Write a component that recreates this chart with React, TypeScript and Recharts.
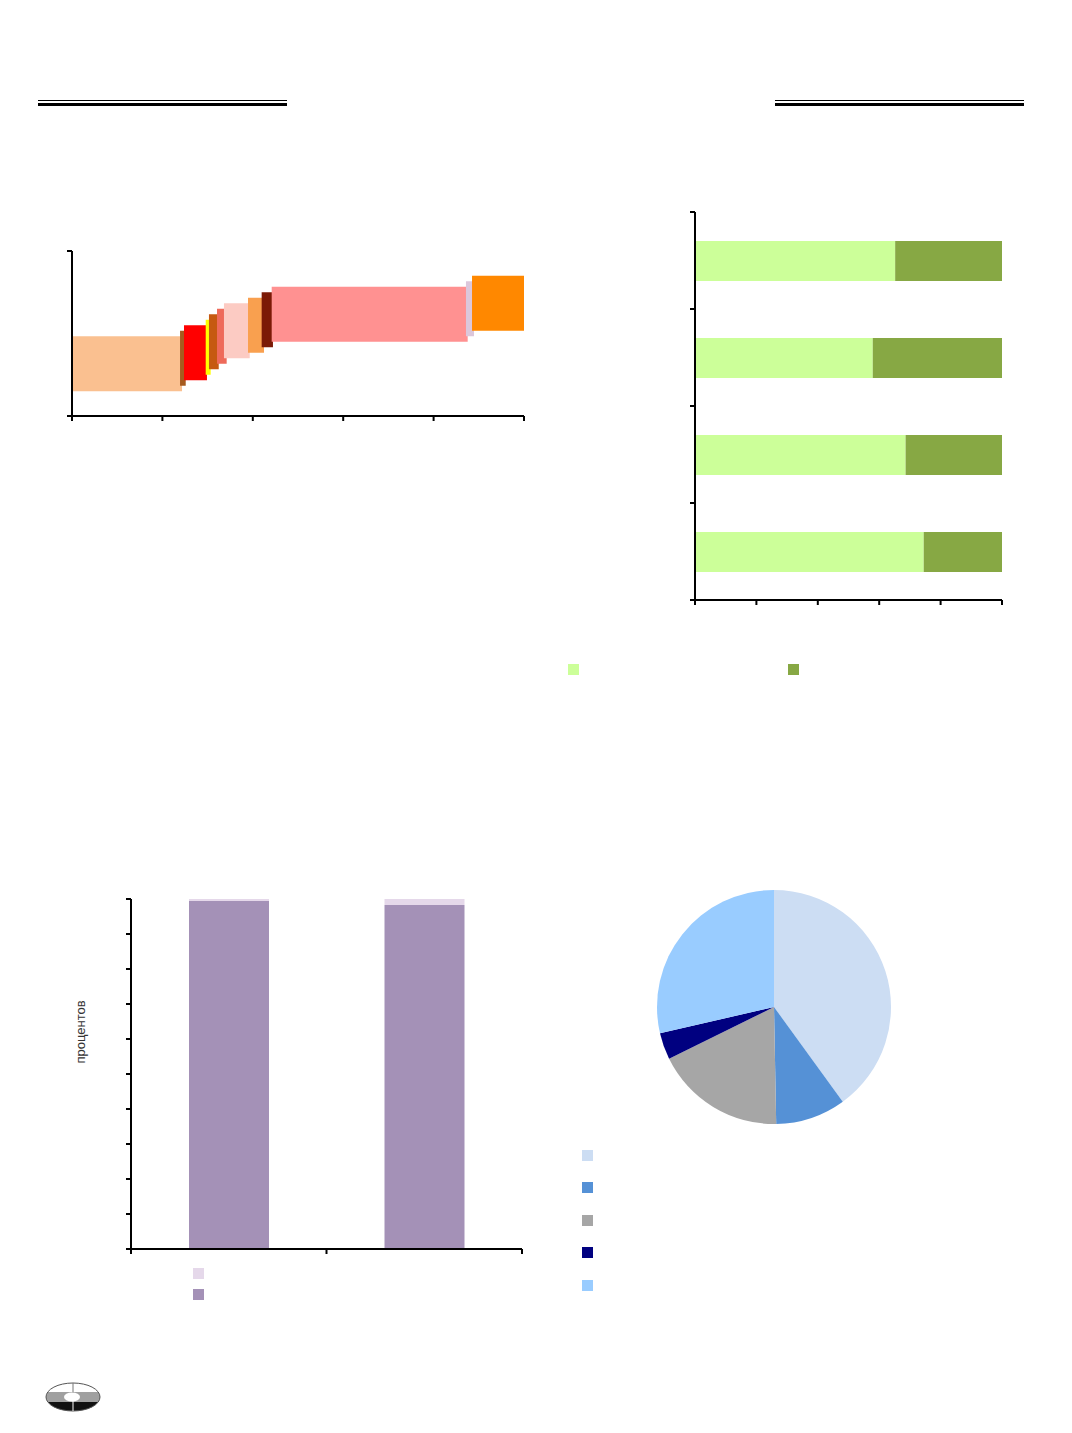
import React from 'react';
import {
  ComposedChart,
  BarChart,
  Bar,
  XAxis,
  YAxis,
  ReferenceArea,
  PieChart,
  Pie,
  Cell,
} from 'recharts';

// top-left: stepped cost boxes (x from/to, y low/high)
const boxFrom = [0, 1.195, 1.239, 1.479, 1.515, 1.604, 1.681, 1.947, 2.098, 2.209, 4.358, 4.425];
const boxTo = [1.217, 1.258, 1.493, 1.534, 1.623, 1.711, 1.966, 2.124, 2.223, 4.377, 4.447, 5];
const boxLow = [4.5, 5.5, 6.5, 7.5, 8.5, 9.5, 10.5, 11.5, 12.5, 13.5, 14.5, 15.5];
const boxHigh = [14.5, 15.5, 16.5, 17.5, 18.5, 19.5, 20.5, 21.5, 22.5, 23.5, 24.5, 25.5];
const boxColors = [
  '#FAC090', '#A65B1F', '#FF0000', '#FFFF00', '#C65911', '#EE6A5A',
  '#FCCBC3', '#F9A04F', '#7B1A06', '#FF9191', '#DCC7DB', '#FF8800',
];
const boxTicksX = [0, 1, 2, 3, 4, 5];
const boxTicksY = [0, 30];

// top-right: 100% horizontal bars
const rowNames = ['r1', 'r2', 'r3', 'r4'];
const rowLight = [65.2, 57.9, 68.6, 74.5];
const rowDark = [34.8, 42.1, 31.4, 25.5];
const rowColors = ['#CCFF99', '#87A844'];
const rowTicks = [0, 20, 40, 60, 80, 100];

// bottom-left: 100% columns
const colNames = ['c1', 'c2'];
const colMain = [99.4, 98.3];
const colRest = [0.6, 1.7];
const colColors = ['#A491B7', '#E5D8EA'];
const colTicks = [0, 10, 20, 30, 40, 50, 60, 70, 80, 90, 100];

// bottom-right: pie
const pieValues = [40, 9.7, 18, 3.7, 28.6];
const pieColors = ['#CCDDF3', '#5591D6', '#A6A6A6', '#000080', '#99CCFF'];

const axisLine = { stroke: '#000', strokeWidth: 2 };
const tickLine = { stroke: '#000', strokeWidth: 2 };
const TICK = 5;
const NoLabel = () => <g />;

// category axes: tick marks sit on the band edges, Excel style
const BandTickY = (props: any) => {
  const { x, y, payload, index, visibleTicksCount } = props;
  const off = payload?.offset ?? 0;
  const last = index === visibleTicksCount - 1;
  return (
    <g>
      <line x1={x - TICK} x2={x} y1={y - off} y2={y - off} stroke="#000" strokeWidth={2} />
      {last && <line x1={x - TICK} x2={x} y1={y + off} y2={y + off} stroke="#000" strokeWidth={2} />}
    </g>
  );
};
const BandTickX = (props: any) => {
  const { x, y, payload, index, visibleTicksCount } = props;
  const off = payload?.offset ?? 0;
  const last = index === visibleTicksCount - 1;
  return (
    <g>
      <line x1={x - off} x2={x - off} y1={y} y2={y + TICK} stroke="#000" strokeWidth={2} />
      {last && <line x1={x + off} x2={x + off} y1={y} y2={y + TICK} stroke="#000" strokeWidth={2} />}
    </g>
  );
};

const boxes = boxFrom.map((x0, i) => ({
  x0,
  x1: boxTo[i],
  y0: boxLow[i],
  y1: boxHigh[i],
  color: boxColors[i],
}));
const rows = rowNames.map((name, i) => ({ name, light: rowLight[i], dark: rowDark[i] }));
const cols = colNames.map((name, i) => ({ name, main: colMain[i], rest: colRest[i] }));
const slices = pieValues.map((value, i) => ({ name: `s${i}`, value }));

function Square({ left, top, color }: { left: number; top: number; color: string }) {
  return (
    <div style={{ position: 'absolute', left, top, width: 11, height: 11, background: color }} />
  );
}

function HeaderRule({ left }: { left: number }) {
  return (
    <div style={{ position: 'absolute', left, top: 100, width: 249 }}>
      <div style={{ height: 1, background: '#000' }} />
      <div style={{ height: 2 }} />
      <div style={{ height: 3, background: '#000' }} />
    </div>
  );
}

function Logo() {
  return (
    <svg
      style={{ position: 'absolute', left: 44, top: 1380 }}
      width={60}
      height={34}
      viewBox="0 0 60 34"
    >
      <defs>
        <clipPath id="disk">
          <ellipse cx={29} cy={17} rx={27} ry={14} />
        </clipPath>
      </defs>
      <g clipPath="url(#disk)">
        <rect x={0} y={0} width={60} height={12} fill="#fff" />
        <rect x={0} y={12} width={60} height={10} fill="#a0a0a0" />
        <rect x={0} y={22} width={60} height={12} fill="#111" />
      </g>
      <ellipse cx={29} cy={17} rx={27} ry={14} fill="none" stroke="#555" strokeWidth={1} />
      <line x1={29} y1={3} x2={29} y2={13} stroke="#777" strokeWidth={1} />
      <line x1={29} y1={21} x2={29} y2={31} stroke="#fff" strokeWidth={1} />
      <ellipse cx={28} cy={17} rx={8} ry={4.5} fill="#fff" />
    </svg>
  );
}

export default function App() {
  return (
    <div
      style={{
        position: 'absolute',
        left: 0,
        top: 0,
        width: 1072,
        height: 1433,
        background: '#fff',
        fontFamily: '"Liberation Sans", Arial, sans-serif',
      }}
    >
      <HeaderRule left={38} />
      <HeaderRule left={775} />

      {/* top-left */}
      <div style={{ position: 'absolute', left: 52, top: 241 }}>
        <ComposedChart
          width={482}
          height={185}
          data={boxes}
          margin={{ top: 10, right: 10, bottom: 0, left: 0 }}
        >
          <XAxis
            type="number"
            dataKey="x0"
            domain={[0, 5]}
            ticks={boxTicksX}
            tick={NoLabel}
            height={10}
            axisLine={axisLine}
            tickLine={tickLine}
            tickSize={TICK}
            allowDataOverflow
          />
          <YAxis
            type="number"
            dataKey="y1"
            domain={[0, 30]}
            ticks={boxTicksY}
            tick={NoLabel}
            width={20}
            axisLine={axisLine}
            tickLine={tickLine}
            tickSize={TICK}
            allowDataOverflow
          />
          {boxes.map((b, i) => (
            <ReferenceArea
              key={`box-${i}`}
              x1={b.x0}
              x2={b.x1}
              y1={b.y0}
              y2={b.y1}
              fill={b.color}
              fillOpacity={1}
              stroke="none"
              ifOverflow="visible"
            />
          ))}
        </ComposedChart>
      </div>

      {/* top-right */}
      <div style={{ position: 'absolute', left: 675, top: 202 }}>
        <BarChart
          width={337}
          height={408}
          data={rows}
          layout="vertical"
          margin={{ top: 10, right: 10, bottom: 0, left: 0 }}
        >
          <XAxis
            type="number"
            domain={[0, 100]}
            ticks={rowTicks}
            tick={NoLabel}
            height={10}
            axisLine={axisLine}
            tickLine={tickLine}
            tickSize={TICK}
          />
          <YAxis
            type="category"
            dataKey="name"
            width={20}
            axisLine={axisLine}
            tickLine={false}
            tickSize={0}
            tickMargin={0}
            tick={BandTickY}
            interval={0}
          />
          <Bar dataKey="light" stackId="s" fill={rowColors[0]} barSize={40} isAnimationActive={false} />
          <Bar dataKey="dark" stackId="s" fill={rowColors[1]} barSize={40} isAnimationActive={false} />
        </BarChart>
      </div>
      <Square left={568} top={664} color={rowColors[0]} />
      <Square left={788} top={664} color={rowColors[1]} />

      {/* bottom-left */}
      <div
        style={{
          position: 'absolute',
          left: 80,
          top: 1032,
          transform: 'translate(-50%, -50%) rotate(-90deg)',
          fontSize: 13,
          color: '#333',
          whiteSpace: 'nowrap',
        }}
      >
        процентов
      </div>
      <div style={{ position: 'absolute', left: 111, top: 889 }}>
        <BarChart
          width={421}
          height={370}
          data={cols}
          margin={{ top: 10, right: 10, bottom: 0, left: 0 }}
        >
          <XAxis
            type="category"
            dataKey="name"
            height={10}
            axisLine={axisLine}
            tickLine={false}
            tickSize={0}
            tickMargin={0}
            tick={BandTickX}
            interval={0}
          />
          <YAxis
            type="number"
            domain={[0, 100]}
            ticks={colTicks}
            tick={NoLabel}
            width={20}
            axisLine={axisLine}
            tickLine={tickLine}
            tickSize={TICK}
          />
          <Bar dataKey="main" stackId="s" fill={colColors[0]} barSize={80} isAnimationActive={false} />
          <Bar dataKey="rest" stackId="s" fill={colColors[1]} barSize={80} isAnimationActive={false} />
        </BarChart>
      </div>
      <Square left={193} top={1268} color={colColors[1]} />
      <Square left={193} top={1289} color={colColors[0]} />

      {/* bottom-right */}
      <div style={{ position: 'absolute', left: 619, top: 872 }}>
        <PieChart width={300} height={260}>
          <Pie
            data={slices}
            dataKey="value"
            cx={150}
            cy={130}
            outerRadius={117}
            startAngle={90}
            endAngle={-270}
            stroke="none"
            isAnimationActive={false}
          >
            {slices.map((s, i) => (
              <Cell key={`slice-${i}`} fill={pieColors[i]} />
            ))}
          </Pie>
        </PieChart>
      </div>
      {pieColors.map((c, i) => (
        <Square key={`pl-${i}`} left={582} top={[1150, 1182, 1215, 1247, 1280][i]} color={c} />
      ))}

      <Logo />
    </div>
  );
}
